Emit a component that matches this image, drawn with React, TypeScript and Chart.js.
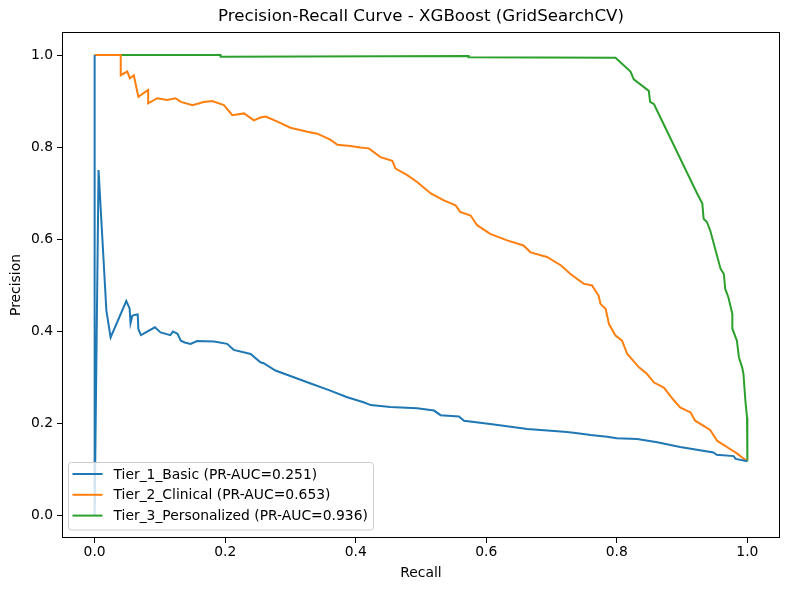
import React, { useEffect, useRef } from "react";
import { Chart, registerables } from "chart.js";

Chart.register(...registerables);

const TITLE = "Precision-Recall Curve - XGBoost (GridSearchCV)";
const X_LABEL = "Recall";
const Y_LABEL = "Precision";
const TICKS = [0, 0.2, 0.4, 0.6, 0.8, 1.0];

const tier1Label = "Tier_1_Basic (PR-AUC=0.251)";
const tier1Recall = [0, 0, 0.006, 0.018, 0.0245, 0.0485, 0.0536, 0.055, 0.0577, 0.061, 0.066, 0.067, 0.071, 0.0923, 0.101, 0.116, 0.12, 0.127, 0.132, 0.138, 0.147, 0.157, 0.183, 0.203, 0.213, 0.239, 0.254, 0.259, 0.277, 0.331, 0.36, 0.387, 0.412, 0.423, 0.453, 0.494, 0.52, 0.53, 0.558, 0.566, 0.606, 0.663, 0.719, 0.734, 0.76, 0.785, 0.8, 0.831, 0.862, 0.897, 0.948, 0.953, 0.979, 0.982, 1.0];
const tier1Precision = [1.0, 0.0, 0.75, 0.444, 0.386, 0.465, 0.449, 0.417, 0.433, 0.435, 0.436, 0.404, 0.391, 0.408, 0.397, 0.391, 0.399, 0.394, 0.379, 0.375, 0.372, 0.378, 0.377, 0.372, 0.359, 0.35, 0.332, 0.33, 0.314, 0.286, 0.271, 0.256, 0.245, 0.239, 0.235, 0.232, 0.227, 0.217, 0.214, 0.205, 0.198, 0.187, 0.181, 0.179, 0.174, 0.17, 0.167, 0.165, 0.158, 0.148, 0.136, 0.131, 0.128, 0.122, 0.117];

const tier2Label = "Tier_2_Clinical (PR-AUC=0.653)";
const tier2Recall = [0, 0.04, 0.04, 0.05, 0.054, 0.06, 0.067, 0.082, 0.082, 0.096, 0.111, 0.124, 0.132, 0.15, 0.167, 0.18, 0.198, 0.211, 0.229, 0.244, 0.254, 0.262, 0.28, 0.3, 0.326, 0.341, 0.361, 0.372, 0.392, 0.407, 0.42, 0.438, 0.456, 0.461, 0.479, 0.494, 0.515, 0.535, 0.553, 0.56, 0.576, 0.586, 0.606, 0.632, 0.657, 0.668, 0.693, 0.714, 0.729, 0.749, 0.762, 0.772, 0.775, 0.783, 0.788, 0.798, 0.808, 0.816, 0.834, 0.846, 0.857, 0.872, 0.887, 0.897, 0.913, 0.92, 0.943, 0.954, 0.974, 0.984, 0.992, 1.0];
const tier2Precision = [1.0, 1.0, 0.956, 0.964, 0.949, 0.956, 0.909, 0.924, 0.895, 0.906, 0.902, 0.906, 0.898, 0.891, 0.898, 0.9, 0.891, 0.869, 0.873, 0.858, 0.864, 0.866, 0.855, 0.842, 0.833, 0.829, 0.816, 0.805, 0.802, 0.799, 0.797, 0.778, 0.77, 0.753, 0.739, 0.724, 0.699, 0.684, 0.673, 0.659, 0.651, 0.63, 0.611, 0.597, 0.586, 0.571, 0.561, 0.543, 0.524, 0.503, 0.499, 0.477, 0.459, 0.448, 0.415, 0.39, 0.379, 0.35, 0.321, 0.307, 0.288, 0.277, 0.25, 0.234, 0.223, 0.205, 0.185, 0.161, 0.143, 0.134, 0.125, 0.117];

const tier3Label = "Tier_3_Personalized (PR-AUC=0.936)";
const tier3Recall = [0, 0.193, 0.193, 0.573, 0.573, 0.798, 0.821, 0.826, 0.849, 0.851, 0.857, 0.923, 0.931, 0.933, 0.938, 0.943, 0.959, 0.964, 0.966, 0.971, 0.977, 0.977, 0.984, 0.987, 0.992, 0.994, 0.997, 0.9995, 1.0];
const tier3Precision = [1.0, 1.0, 0.996, 0.998, 0.995, 0.994, 0.964, 0.947, 0.922, 0.898, 0.893, 0.699, 0.677, 0.644, 0.637, 0.619, 0.535, 0.524, 0.492, 0.473, 0.437, 0.405, 0.379, 0.343, 0.321, 0.307, 0.248, 0.212, 0.117];

const COLORS = ["#1f77b4", "#ff7f0e", "#2ca02c"];
const FONT = "DejaVu Sans";
const TEXT_SIZE = 13.89;
const TITLE_SIZE = 16.67;

const toPoints = (xs: number[], ys: number[]) => xs.map((x, i) => ({ x, y: ys[i] }));

const series = [
  { label: tier1Label, recall: tier1Recall, precision: tier1Precision },
  { label: tier2Label, recall: tier2Recall, precision: tier2Precision },
  { label: tier3Label, recall: tier3Recall, precision: tier3Precision },
];

// Frame, title and legend drawn in matplotlib style
const decorations = {
  id: "decorations",
  afterDatasetsDraw(chart: any) {
    const { ctx, chartArea } = chart;
    const { left, right, top, bottom } = chartArea;
    ctx.save();
    // axes frame
    ctx.strokeStyle = "#000";
    ctx.lineWidth = 1;
    ctx.strokeRect(Math.round(left) + 0.5, Math.round(top) + 0.5, Math.round(right - left) - 1, Math.round(bottom - top) - 1);

    // title
    ctx.fillStyle = "#000";
    ctx.font = `${TITLE_SIZE}px "${FONT}"`;
    ctx.textAlign = "center";
    ctx.textBaseline = "middle";
    ctx.fillText(TITLE, (left + right) / 2, 17);

    // legend
    const bx = left + 6.5;
    const by = bottom - 75.5;
    const bw = 305;
    const bh = 67.5;
    ctx.beginPath();
    (ctx as any).roundRect(bx, by, bw, bh, 3);
    ctx.fillStyle = "rgba(255,255,255,0.8)";
    ctx.fill();
    ctx.strokeStyle = "#cccccc";
    ctx.lineWidth = 1;
    ctx.stroke();
    ctx.font = `${TEXT_SIZE}px "${FONT}"`;
    ctx.textAlign = "left";
    ctx.textBaseline = "middle";
    chart.data.datasets.forEach((ds: any, i: number) => {
      const cy = by + 11.5 + i * 20.8;
      ctx.strokeStyle = ds.borderColor;
      ctx.lineWidth = 2;
      ctx.beginPath();
      ctx.moveTo(bx + 4, cy);
      ctx.lineTo(bx + 34, cy);
      ctx.stroke();
      ctx.fillStyle = "#000";
      ctx.fillText(ds.label, bx + 45, cy + 1);
    });
    ctx.restore();
  },
};

const axisCommon = (fitKey: "width" | "height", size: number, title: string, pad: any) => ({
  type: "linear" as const,
  min: -0.05,
  max: 1.05,
  afterBuildTicks: (scale: any) => {
    scale.ticks = TICKS.map((v) => ({ value: v }));
  },
  afterFit: (scale: any) => {
    scale[fitKey] = size;
  },
  ticks: {
    color: "#000",
    font: { family: FONT, size: TEXT_SIZE },
    padding: fitKey === "height" ? 1 : 4,
    maxRotation: 0,
    autoSkip: false,
    callback: (v: any) => Number(v).toFixed(1),
  },
  grid: {
    display: true,
    drawOnChartArea: false,
    drawTicks: true,
    tickLength: 5,
    tickColor: "#000",
    color: "#000",
  },
  border: { display: false },
  title: {
    display: true,
    text: title,
    color: "#000",
    font: { family: FONT, size: TEXT_SIZE },
    padding: pad,
  },
});

export default function App() {
  const canvasRef = useRef<HTMLCanvasElement | null>(null);

  useEffect(() => {
    if (!canvasRef.current) return;
    const chart = new Chart(canvasRef.current, {
      type: "scatter",
      data: {
        datasets: series.map((s, i) => ({
          label: s.label,
          data: toPoints(s.recall, s.precision),
          showLine: true,
          borderColor: COLORS[i],
          backgroundColor: COLORS[i],
          borderWidth: 2,
          pointRadius: 0,
          pointHoverRadius: 0,
          tension: 0,
          fill: false,
        })),
      },
      options: {
        animation: false,
        responsive: false,
        devicePixelRatio: 1,
        layout: { padding: { top: 32, right: 10, left: 0, bottom: 0 } },
        plugins: {
          legend: { display: false },
          title: { display: false },
          tooltip: { enabled: false },
        },
        scales: {
          x: axisCommon("height", 52, X_LABEL, { top: 0, bottom: 8 }),
          y: axisCommon("width", 62, Y_LABEL, { top: 8, bottom: 0 }),
        },
      },
      plugins: [decorations],
    });
    return () => chart.destroy();
  }, []);

  return (
    <div style={{ position: "absolute", left: 0, top: 0, width: 790, height: 590, background: "#fff" }}>
      <canvas ref={canvasRef} width={790} height={590} />
    </div>
  );
}
